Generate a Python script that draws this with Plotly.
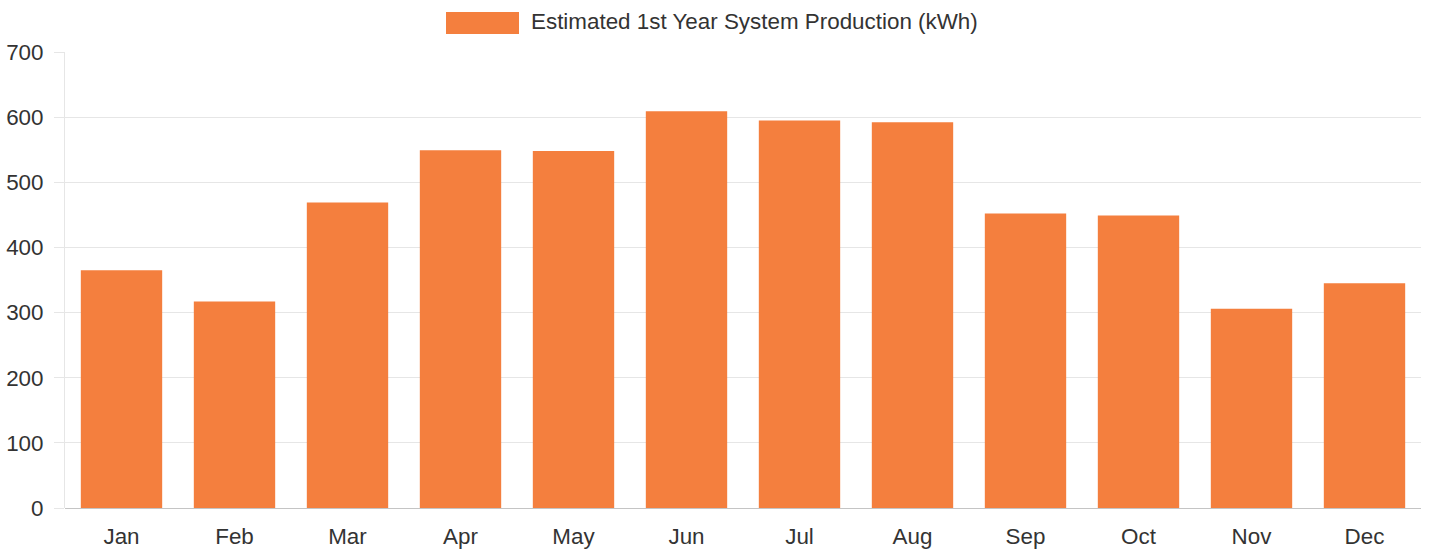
import plotly.graph_objects as go

months = ["Jan", "Feb", "Mar", "Apr", "May", "Jun", "Jul", "Aug", "Sep", "Oct", "Nov", "Dec"]
production = [365, 317, 469, 549, 548, 609, 595, 592, 452, 449, 306, 345]
series_name = "Estimated 1st Year System Production (kWh)"
y_ticks = [0, 100, 200, 300, 400, 500, 600, 700]

BAR = "#F47F3E"
FONT = "Liberation Sans, Arial, sans-serif"
TXT = "#333333"
FS = 22.4

W, H = 1429, 549
ML, MR, MT, MB = 65, 8, 52, 41
PW, PH = W - ML - MR, H - MT - MB


def px_x(x):  # canvas pixel -> paper x
    return (x - ML) / PW


def px_y(y):  # canvas pixel -> paper y
    return (H - MB - y) / PH


fig = go.Figure()
fig.add_trace(go.Bar(
    x=months, y=production, name=series_name,
    marker=dict(color=BAR, line=dict(width=0)),
    showlegend=False,
))

fig.update_layout(
    width=W, height=H,
    margin=dict(l=ML, r=MR, t=MT, b=MB, autoexpand=False),
    paper_bgcolor="white", plot_bgcolor="white",
    bargap=0.28,
    font=dict(family=FONT, size=FS, color=TXT),
    xaxis=dict(
        automargin=False,
        showgrid=False, showline=False, zeroline=False,
        ticks="outside", ticklen=8, tickcolor="rgba(0,0,0,0)",
        tickfont=dict(size=FS, color=TXT),
    ),
    yaxis=dict(
        automargin=False,
        range=[0, 700], tickvals=y_ticks,
        showgrid=True, gridcolor="#e6e6e6", gridwidth=1,
        zeroline=True, zerolinecolor="#c4c4c4", zerolinewidth=1,
        showline=True, linecolor="#e6e6e6", linewidth=1,
        ticks="outside", ticklen=10, tickcolor="#e6e6e6",
        ticklabelstandoff=6,
        tickfont=dict(size=FS, color=TXT),
    ),
)

# legend drawn as a swatch + text (Chart.js style)
fig.add_shape(type="rect", xref="paper", yref="paper",
              x0=px_x(446), x1=px_x(519), y0=px_y(34), y1=px_y(12),
              fillcolor=BAR, line=dict(width=0))
fig.add_annotation(xref="paper", yref="paper",
                   x=px_x(529), y=px_y(22),
                   xanchor="left", yanchor="middle", showarrow=False,
                   text=series_name, font=dict(size=FS, color=TXT))

fig.write_html(
    "out.html",
    config={"displayModeBar": False},
    post_script="document.body.style.margin='0';document.body.style.overflow='hidden';",
)
